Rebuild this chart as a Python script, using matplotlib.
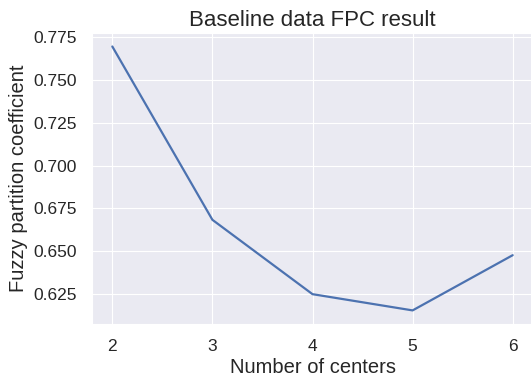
import matplotlib
matplotlib.use("Agg")
import matplotlib.pyplot as plt
import seaborn as sns
import numpy as np

# FPC score for each number of cluster centers
n_centers = [2, 3, 4, 5, 6]
fpc = [0.7697, 0.6683, 0.6248, 0.6153, 0.6476]

sns.set_style("darkgrid")
plt.rcParams['font.family'] = ['Liberation Sans', 'DejaVu Sans']

W, H, DPI = 531, 377, 100
fig = plt.figure(figsize=(W / DPI, H / DPI), dpi=DPI)
# axes runs slightly past the right edge of the canvas
left, right, top, bottom = 92.3, 532.7, 33.3, 323.6
ax = fig.add_axes([left / W, 1 - bottom / H, (right - left) / W, (bottom - top) / H])

ax.plot(n_centers, fpc, color="#4c72b0", linewidth=1.6)
ax.set_xticks(n_centers)
ax.set_yticks(np.arange(0.625, 0.7751, 0.025))
ax.tick_params(axis='both', labelsize=12.5, pad=7.5, colors='#262626')

ax.set_title("Baseline data FPC result", fontsize=16, color='#262626', pad=5)
ax.set_xlabel("Number of centers", fontsize=14.5, color='#262626', labelpad=3)
ax.set_ylabel("Fuzzy partition coefficient", fontsize=14.5, color='#262626')

fig.savefig("out.png", dpi=DPI)
